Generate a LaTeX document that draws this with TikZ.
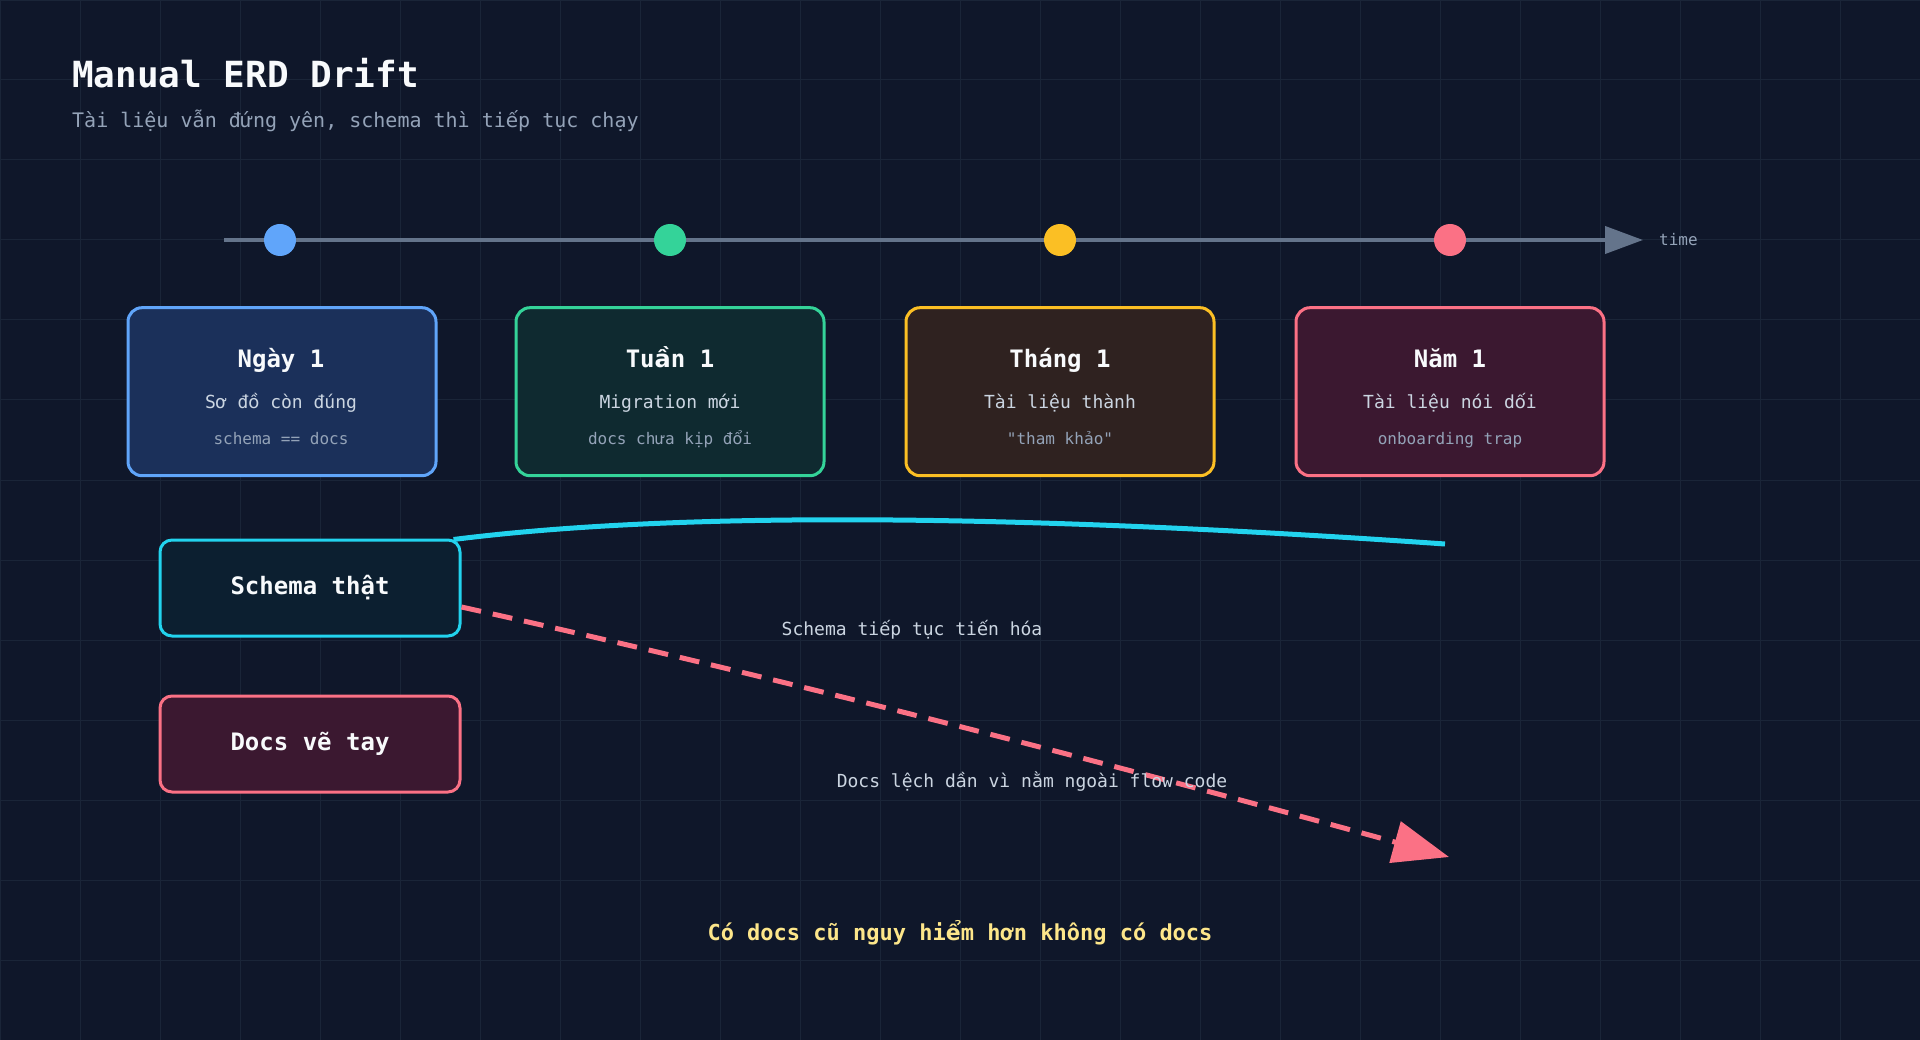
\documentclass[tikz,border=0pt]{standalone}
\usepackage{fontspec}
\setmainfont{DejaVu Sans Mono}[Ligatures=TeXOff]
\newfontfamily\vietfont{DejaVu Sans}[Ligatures=TeXOff]
% letters that DejaVu Sans Mono lacks are set in DejaVu Sans
\XeTeXinterchartokenstate=1
\newXeTeXintercharclass\VietClass
\XeTeXcharclass`ấ=\VietClass \XeTeXcharclass`ầ=\VietClass \XeTeXcharclass`ẩ=\VietClass \XeTeXcharclass`ẫ=\VietClass
\XeTeXcharclass`ắ=\VietClass \XeTeXcharclass`ằ=\VietClass \XeTeXcharclass`ẳ=\VietClass \XeTeXcharclass`ẵ=\VietClass
\XeTeXcharclass`ế=\VietClass \XeTeXcharclass`ề=\VietClass \XeTeXcharclass`ể=\VietClass \XeTeXcharclass`ễ=\VietClass
\XeTeXcharclass`ố=\VietClass \XeTeXcharclass`ồ=\VietClass \XeTeXcharclass`ổ=\VietClass \XeTeXcharclass`ỗ=\VietClass
\XeTeXcharclass`ả=\VietClass \XeTeXcharclass`ẻ=\VietClass \XeTeXcharclass`ỉ=\VietClass \XeTeXcharclass`ỏ=\VietClass
\XeTeXcharclass`ủ=\VietClass \XeTeXcharclass`ỷ=\VietClass \XeTeXcharclass`ở=\VietClass \XeTeXcharclass`ử=\VietClass
\XeTeXinterchartoks 0 \VietClass = {\vietfont}
\XeTeXinterchartoks 4095 \VietClass = {\vietfont}
\XeTeXinterchartoks \VietClass 0 = {\rmfamily}
\XeTeXinterchartoks \VietClass 4095 = {\rmfamily}
\usetikzlibrary{positioning,arrows.meta}
\definecolor{NightBg}{HTML}{0F172A}
\definecolor{NightGrid}{HTML}{1A2538}
\definecolor{AxisSlate}{HTML}{64748B}
\definecolor{DayBlue}{HTML}{60A5FA}
\definecolor{DayBlueFill}{HTML}{1B305A}
\definecolor{WeekGreen}{HTML}{34D399}
\definecolor{WeekGreenFill}{HTML}{0F2A30}
\definecolor{MonthAmber}{HTML}{FBBF24}
\definecolor{MonthAmberFill}{HTML}{2F2220}
\definecolor{YearRose}{HTML}{FB7185}
\definecolor{YearRoseFill}{HTML}{3B1830}
\definecolor{SchemaCyan}{HTML}{22D3EE}
\definecolor{SchemaCyanFill}{HTML}{0C1F30}
\definecolor{TextWhite}{HTML}{F8FAFC}
\definecolor{TextLight}{HTML}{CBD5E1}
\definecolor{TextMuted}{HTML}{94A3B8}
\definecolor{WarnYellow}{HTML}{FDE68A}

\begin{document}
\begin{tikzpicture}[x=1pt,y=-1pt,
  stagebox/.style={draw,rounded corners=14pt,line width=3pt,minimum width=308pt,minimum height=168pt,inner sep=0pt},
  trackbox/.style={draw,rounded corners=12pt,line width=3pt,minimum width=300pt,minimum height=96pt,inner sep=0pt,text=TextWhite,font=\fontsize{24}{28}\selectfont\bfseries},
  dot/.style={circle,minimum size=32pt,inner sep=0pt},
  stagetitle/.style={anchor=base,text=TextWhite,font=\fontsize{24}{28}\selectfont\bfseries},
  stageline/.style={anchor=base,text=TextLight,font=\fontsize{18}{22}\selectfont},
  stagenote/.style={anchor=base,text=TextMuted,font=\fontsize{16}{20}\selectfont},
  flownote/.style={anchor=base,text=TextLight,font=\fontsize{18}{22}\selectfont}]
\useasboundingbox (0,0) rectangle (1920,1040);
\fill[NightBg] (0,0) rectangle (1920,1040);
\draw[NightGrid,line width=1pt] (0,0) grid[step=80pt] (1920,1040);

% heading
\node[anchor=base west,inner sep=0pt,text=TextWhite,font=\fontsize{36}{40}\selectfont\bfseries] (title) at (72,88) {Manual ERD Drift};
\node[anchor=base west,inner sep=0pt,text=TextMuted,font=\fontsize{20}{24}\selectfont] (subtitle) at (72,128) {Tài liệu vẫn đứng yên, schema thì tiếp tục chạy};

% time axis
\coordinate (axisstart) at (224,240);
\coordinate (axisend) at (1643,240);
\draw[AxisSlate,line width=4pt,-{Triangle[length=38pt,width=27pt]}] (axisstart) -- (axisend);
\node[right=16pt of axisend,inner sep=0pt,text=TextMuted,font=\fontsize{16}{20}\selectfont] (timelabel) {time};
\node[dot,fill=DayBlue] (d1) at (280,240) {};
\node[dot,fill=WeekGreen] (d2) at (670,240) {};
\node[dot,fill=MonthAmber] (d3) at (1060,240) {};
\node[dot,fill=YearRose] (d4) at (1450,240) {};

% stages
\node[stagebox,draw=DayBlue,fill=DayBlueFill,below=50pt of d1,xshift=2pt] (day) {};
\node[stagebox,draw=WeekGreen,fill=WeekGreenFill,below=50pt of d2] (week) {};
\node[stagebox,draw=MonthAmber,fill=MonthAmberFill,below=50pt of d3] (month) {};
\node[stagebox,draw=YearRose,fill=YearRoseFill,below=50pt of d4] (year) {};

\node[stagetitle] (daytitle) at (281,368) {Ngày 1};
\node[stageline] (dayline) at (281,409) {Sơ đồ còn đúng};
\node[stagenote] (daynote) at (281,444) {schema == docs};
\node[stagetitle] (weektitle) at (670,368) {Tuần 1};
\node[stageline] (weekline) at (670,409) {Migration mới};
\node[stagenote] (weeknote) at (670,444) {docs chưa kịp đổi};
\node[stagetitle] (monthtitle) at (1060,368) {Tháng 1};
\node[stageline] (monthline) at (1060,409) {Tài liệu thành};
\node[stagenote] (monthnote) at (1060,444) {"tham khảo"};
\node[stagetitle] (yeartitle) at (1450,368) {Năm 1};
\node[stageline] (yearline) at (1450,409) {Tài liệu nói dối};
\node[stagenote] (yearnote) at (1450,444) {onboarding trap};

% schema vs docs
\node[trackbox,fill=SchemaCyanFill,draw=SchemaCyan] (schema) at (310,588) {Schema thật};
\node[trackbox,fill=YearRoseFill,draw=YearRose] (docs) at (310,744) {Docs vẽ tay};
\coordinate (schemaend) at (1445,544);
\coordinate (driftend) at (1449,857);
\draw[SchemaCyan,line width=5pt] ([xshift=-8pt,yshift=-1pt]schema.north east) .. controls (671,512) and (1002,513) .. (schemaend);
\draw[YearRose,line width=5pt,dash pattern=on 20pt off 12pt,-{Triangle[length=56pt,width=42pt]}] ([yshift=-19pt]schema.east) .. controls (754,672) and (1083,756) .. (driftend);
\node[flownote] (evolvenote) at (912,635) {Schema tiếp tục tiến hóa};
\node[flownote] (driftnote) at (1032,787) {Docs lệch dần vì nằm ngoài flow code};

\node[anchor=base,text=WarnYellow,font=\fontsize{22}{26}\selectfont\bfseries] (moral) at (960,940) {Có docs cũ nguy hiểm hơn không có docs};
\end{tikzpicture}
\end{document}
